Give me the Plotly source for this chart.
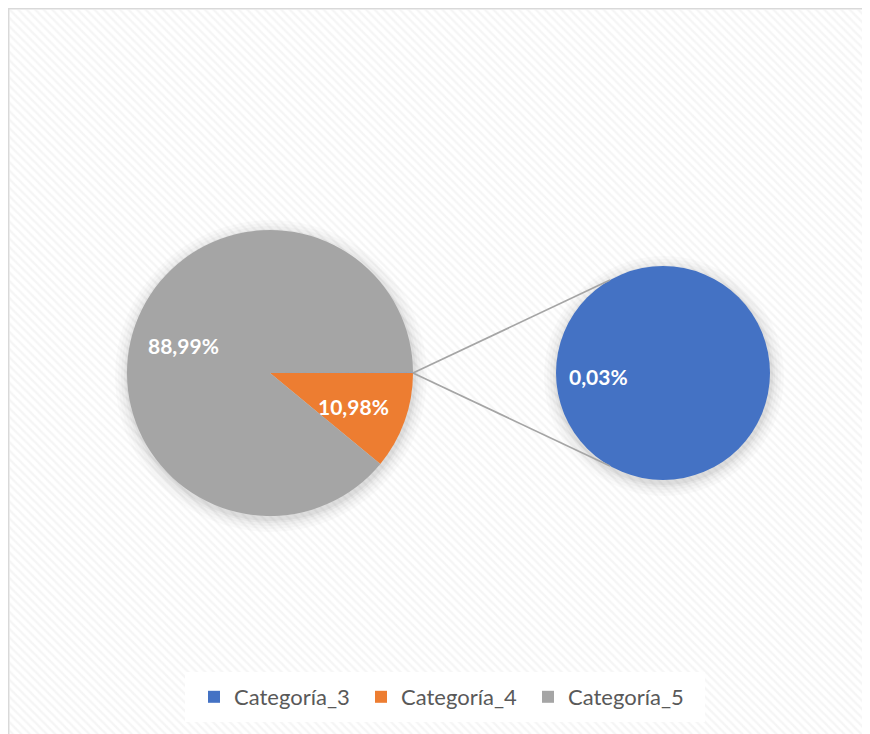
import plotly.graph_objects as go

# datos del gráfico (circular con subgráfico circular)
categorias = ['Categoría_3', 'Categoría_4', 'Categoría_5']
porcentajes = [0.03, 10.98, 88.99]
etiquetas = ['0,03%', '10,98%', '88,99%']
colores = ['#4472C4', '#ED7D31', '#A5A5A5']

W, H = 862, 726
OFF = 8  # margen del body en la pagina

def px_x(x):
    return (x - OFF) / W

def px_y(y):
    return 1 - (y - OFF) / H

def dominio(c, r):
    return dict(x=[px_x(c[0] - r), px_x(c[0] + r)], y=[px_y(c[1] + r), px_y(c[1] - r)])

# circulo principal y secundario (pixeles de pantalla)
c1, r1 = (270, 373), 143
c2, r2 = (663, 373), 107

fig = go.Figure()

# fondo rayado
fig.add_trace(go.Scatter(
    x=[0, 1, 1, 0, 0], y=[0, 0, 1, 1, 0], mode='lines', fill='toself',
    line=dict(width=0), fillcolor='rgba(0,0,0,0)',
    fillpattern=dict(shape='\\', fgcolor='#ececec', bgcolor='#ffffff', size=6, solidity=0.4),
    hoverinfo='skip', showlegend=False, xaxis='x', yaxis='y'))

# sombras suaves
for c, r in ((c1, r1), (c2, r2)):
    for extra, alfa in ((13, 0.018), (10, 0.02), (7, 0.025), (4, 0.03), (2, 0.035)):
        fig.add_trace(go.Pie(
            labels=['sombra'], values=[1], textinfo='none', showlegend=False,
            marker=dict(colors=[f'rgba(0,0,0,{alfa})'], line=dict(width=0)),
            domain=dominio((c[0] + 1, c[1] + 3), r + extra), hoverinfo='skip'))

# circulo secundario: solo Categoría_3
fig.add_trace(go.Pie(
    labels=[categorias[0]], values=[porcentajes[0]], textinfo='none', sort=False,
    marker=dict(colors=[colores[0]], line=dict(width=0)),
    domain=dominio(c2, r2), hoverinfo='label+percent'))

# circulo principal: Categoría_4, Categoría_5 y "otro" (Categoría_3)
orden = [1, 2, 0]
fig.add_trace(go.Pie(
    labels=[categorias[i] for i in orden],
    values=[porcentajes[i] for i in orden],
    textinfo='none', sort=False, direction='clockwise', rotation=90,
    marker=dict(colors=[colores[i] for i in orden], line=dict(width=0)),
    domain=dominio(c1, r1), hoverinfo='label+percent'))

# etiquetas de datos
pos_etiquetas = [(598, 376), (353, 406), (183, 345)]
for txt, (xx, yy) in zip(etiquetas, pos_etiquetas):
    fig.add_annotation(x=px_x(xx), y=px_y(yy), xref='paper', yref='paper',
                       text='<b>' + txt + '</b>', showarrow=False,
                       xanchor='center', yanchor='middle',
                       font=dict(family='Lato', size=21, color='white'))

# lineas de conexion
p0 = (413, 373)
for yy in (280, 466):
    fig.add_shape(type='line', xref='paper', yref='paper',
                  x0=px_x(p0[0]), y0=px_y(p0[1]), x1=px_x(610), y1=px_y(yy),
                  line=dict(color='#A5A5A5', width=1.75), layer='above')

# marco y caja de leyenda
fig.add_shape(type='rect', xref='paper', yref='paper',
              x0=px_x(8.75), y0=px_y(760), x1=px_x(866), y1=px_y(8.75),
              line=dict(color='#d9d9d9', width=1.5), fillcolor='rgba(0,0,0,0)')
fig.add_shape(type='rect', xref='paper', yref='paper',
              x0=px_x(185), y0=px_y(722), x1=px_x(705), y1=px_y(672),
              line=dict(width=0), fillcolor='white', layer='above')

fig.update_layout(
    width=W, height=H,
    margin=dict(l=0, r=0, t=0, b=0),
    paper_bgcolor='white', plot_bgcolor='rgba(0,0,0,0)',
    xaxis=dict(domain=[px_x(9.5), px_x(865.5)], range=[0, 1], visible=False, fixedrange=True),
    yaxis=dict(domain=[0, px_y(9.5)], range=[0, 1], visible=False, fixedrange=True),
    font=dict(family='Lato', color='#595959'),
    legend=dict(orientation='h', x=px_x(194), xanchor='left', y=px_y(697), yanchor='middle',
                bgcolor='rgba(0,0,0,0)', font=dict(size=22, color='#595959'),
                entrywidth=122, traceorder='normal'),
)

fig.write_html('out.html')
